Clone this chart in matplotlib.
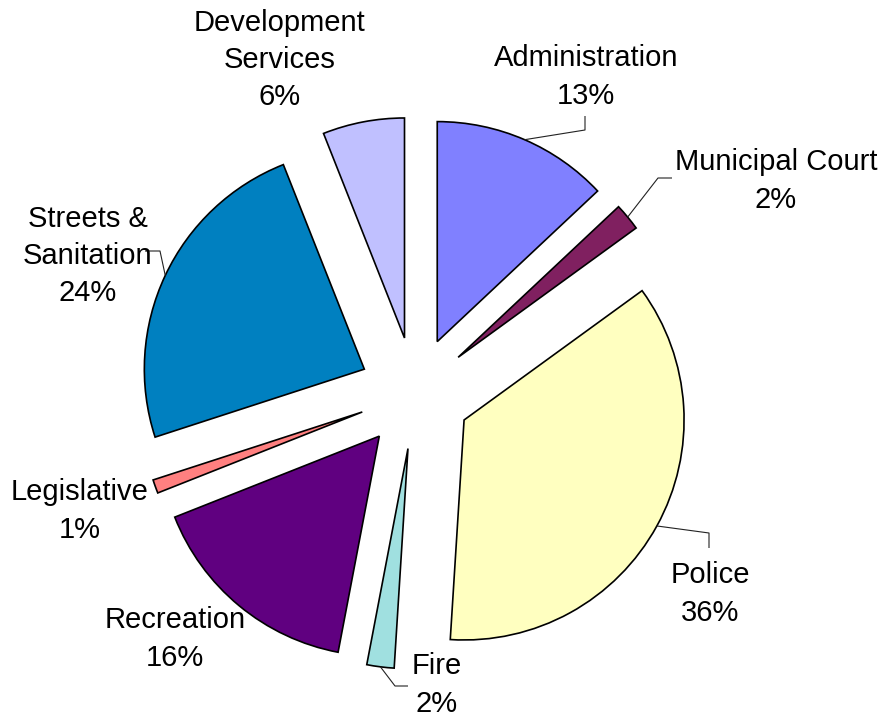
import numpy as np
import matplotlib
matplotlib.use("Agg")
import matplotlib.pyplot as plt

categories = ["Administration", "Municipal Court", "Police", "Fire",
              "Recreation", "Legislative", "Streets &\nSanitation",
              "Development\nServices"]
values = [13, 2, 36, 2, 16, 1, 24, 6]
colors = ["#8080FF", "#802060", "#FFFFC0", "#A0E0E0",
          "#600080", "#FF8080", "#0080C0", "#C0C0FF"]

W, H = 881, 719
fig = plt.figure(figsize=(W / 100, H / 100), dpi=100)
ax = fig.add_axes([0, 0, 1, 1])

cx, cy_px, R = 415, 393, 220
explode_dist = 56  # data units (pixels)
center = (cx, H - cy_px)

wedges, _ = ax.pie(values, colors=colors, startangle=90, counterclock=False,
                   radius=R, center=center,
                   explode=[explode_dist] * len(values),
                   wedgeprops=dict(edgecolor="black", linewidth=1.2))
ax.set_xlim(0, W)
ax.set_ylim(0, H)
ax.set_aspect("equal")
ax.axis("off")

plt.rcParams["font.family"] = ["Liberation Sans", "DejaVu Sans"]

# label positions (pixel, y from top), and leader knee points (None = no leader)
label_pos = [(586, 77), (776, 181), (710, 594), (437, 685),
             (175, 639), (80, 511), (88, 256), (280, 60)]
knees = [[(585, 130), (585, 116)],
         [(658, 178), (672, 178)],
         [(709, 533), (709, 548)],
         [(395, 686), (408, 686)],
         None, None,
         [(160, 251), (145, 251)],
         None]

total = sum(values)
for i, (name, v) in enumerate(zip(categories, values)):
    pct = f"{round(100 * v / total)}%"
    lx, ly = label_pos[i]
    ax.text(lx, H - ly, f"{name}\n{pct}", ha="center", va="center",
            fontsize=21, linespacing=1.42,
            family=["Liberation Sans", "DejaVu Sans"])
    if knees[i] is not None:
        w = wedges[i]
        mid = np.deg2rad((w.theta1 + w.theta2) / 2)
        wc = w.center
        sx = wc[0] + w.r * np.cos(mid)
        sy = wc[1] + w.r * np.sin(mid)
        xs = [sx] + [k[0] for k in knees[i]]
        ys = [sy] + [H - k[1] for k in knees[i]]
        ax.plot(xs, ys, color="#222222", lw=0.8, solid_capstyle="butt")

fig.savefig("out.png", dpi=100)
